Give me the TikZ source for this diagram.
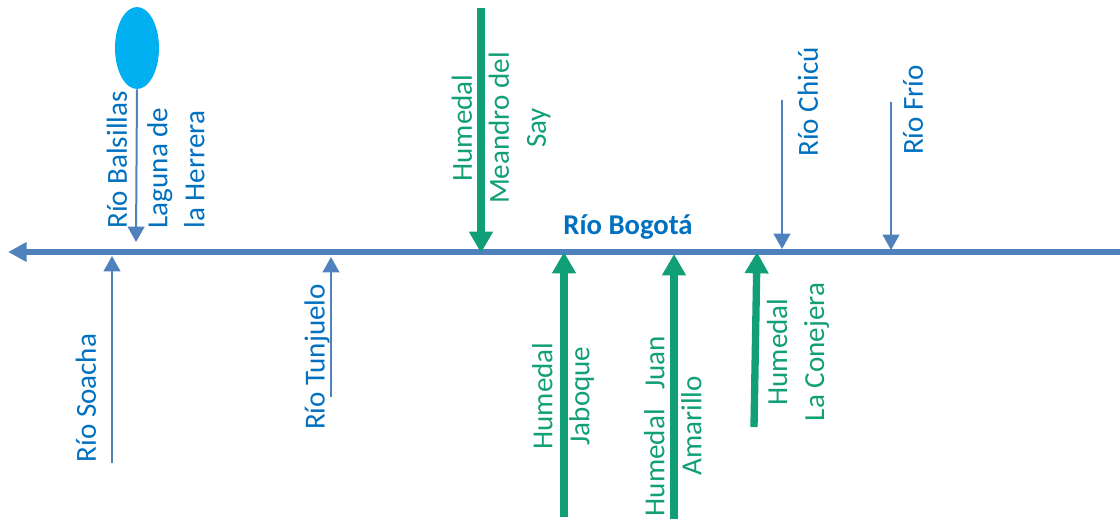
\documentclass[tikz,border=0pt]{standalone}
\usepackage{fontspec}
\setmainfont{Carlito}
\usetikzlibrary{arrows.meta,shapes.geometric}
\definecolor{mainblue}{HTML}{4F81BD}
\definecolor{lake}{HTML}{00B0F0}
\definecolor{txtblue}{HTML}{0070C0}
\definecolor{wetgreen}{HTML}{119F77}
\begin{document}
\begin{tikzpicture}[x=0.75pt,y=-0.75pt,
  lbl/.style={rotate=90, inner sep=0pt, font=\fontsize{21.8}{27.75}\selectfont, align=center},
  bluelbl/.style={lbl, text=txtblue},
  greenlbl/.style={lbl, text=wetgreen},
  tribu/.style={draw=mainblue, line width=1.5pt, -{Triangle[length=11.5pt,width=12.5pt]}},
  wetl/.style={draw=wetgreen, line width=5.5pt, -{Triangle[length=16pt,width=17pt]}},
  river/.style={draw=mainblue, line width=4pt, -{Triangle[length=14pt,width=14pt]}},
  lakestyle/.style={ellipse, fill=lake, draw=none, minimum width=33pt, minimum height=61.5pt, inner sep=0pt}
]
\useasboundingbox (0,0) rectangle (1120,519);

% main river
\coordinate (bstart) at (1120,252);
\coordinate (bend) at (8,252);
\draw[river] (bstart) -- (bend);
\node[font=\fontsize{21.5}{26}\selectfont\bfseries, text=txtblue, inner sep=0pt] (bogota) at (628,227) {Río Bogotá};

% lake
\node[lakestyle] (laguna) at (137,48) {};
\coordinate (balsJ) at (136,242);
\draw[tribu] (laguna.south) -- (balsJ);
\node[bluelbl] (balsl) at (117,160) {Río Balsillas};
\node[lbl, text=txtblue, align=left] (lagl) at (176,168) {Laguna de\\la Herrera};

% blue tributaries, upper side
\coordinate (chicuS) at (782,100);
\coordinate (chicuJ) at (782,249);
\draw[tribu] (chicuS) -- (chicuJ);
\node[bluelbl] (chicul) at (808,102) {Río Chicú};

\coordinate (frioS) at (891,102);
\coordinate (frioJ) at (891,250);
\draw[tribu] (frioS) -- (frioJ);
\node[bluelbl] (friol) at (913,110) {Río Frío};

% blue tributaries, lower side
\coordinate (soachaS) at (112,463);
\coordinate (soachaJ) at (112,256);
\draw[tribu] (soachaS) -- (soachaJ);
\node[bluelbl] (soachal) at (86,398) {Río Soacha};

\coordinate (tunjS) at (331,397);
\coordinate (tunjJ) at (331,257);
\draw[tribu] (tunjS) -- (tunjJ);
\node[bluelbl] (tunjl) at (317,357) {Río Tunjuelo};

% wetlands
\coordinate (sayS) at (481,8);
\coordinate (sayJ) at (481,253);
\draw[wetl] (sayS) -- (sayJ);
\node[greenlbl] (sayl) at (501,128) {Humedal\\Meandro del\\Say};

\coordinate (jabS) at (564,517);
\coordinate (jabJ) at (564,252);
\draw[wetl] (jabS) -- (jabJ);
\node[greenlbl] (jabl) at (563,396) {Humedal\\Jaboque};

\coordinate (juanS) at (674,519);
\coordinate (juanJ) at (674,254);
\draw[wetl] (juanS) -- (juanJ);
\node[greenlbl] (juanl) at (673,426) {Humedal~~~Juan\\Amarillo};

\coordinate (conS) at (754,427);
\coordinate (conJ) at (757,252);
\draw[wetl] (conS) -- (conJ);
\node[greenlbl] (conl) at (798,352) {Humedal\\La Conejera};
\end{tikzpicture}
\end{document}
